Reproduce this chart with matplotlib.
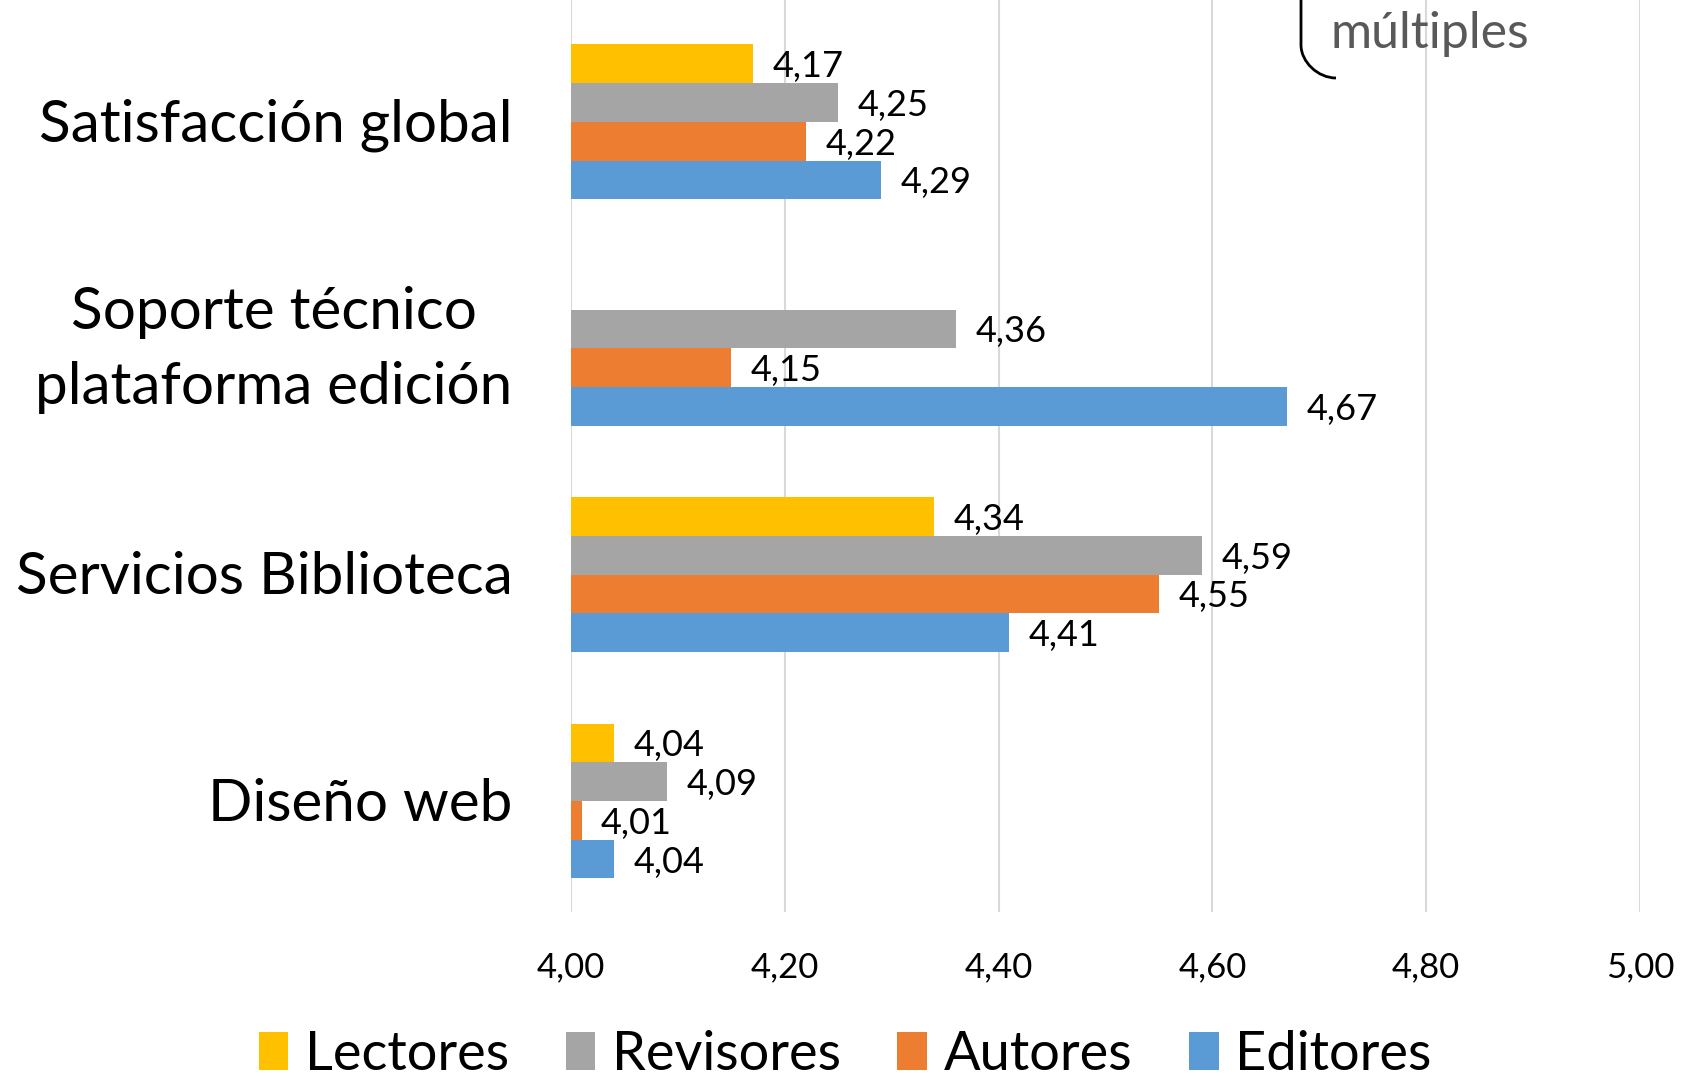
import matplotlib.pyplot as plt
from matplotlib.path import Path
from matplotlib.transforms import ScaledTranslation
import matplotlib.patches as mpatches
import numpy as np

categories = ["Satisfacción global", "Soporte técnico\nplataforma edición",
              "Servicios Biblioteca", "Diseño web"]
series = ["Lectores", "Revisores", "Autores", "Editores"]
colors = ["#FFC000", "#A5A5A5", "#ED7D31", "#5B9BD5"]

lectores = [4.17, np.nan, 4.34, 4.04]
revisores = [4.25, 4.36, 4.59, 4.09]
autores = [4.22, 4.15, 4.55, 4.01]
editores = [4.29, 4.67, 4.41, 4.04]
values = [lectores, revisores, autores, editores]

xticks = [4.0, 4.2, 4.4, 4.6, 4.8, 5.0]

W, H = 1690, 1078
fig = plt.figure(figsize=(W / 100, H / 100), dpi=100)
ax = fig.add_axes([571 / W, 1 - 912 / H, (1640 - 571) / W, 912 / H])

base = 4.0
bh = 0.171
y = np.arange(len(categories))
for i, (name, vals, c) in enumerate(zip(series, values, colors)):
    pos = y + (i - 1.5) * bh
    v = np.array(vals)
    ax.barh(pos, v - base, left=base, height=bh, color=c, label=name, zorder=2)
    for p, val in zip(pos, v):
        if np.isnan(val):
            continue
        ax.annotate(f"{val:.2f}".replace(".", ","), (val, p), xytext=(14, 0),
                    textcoords="offset points", va="center_baseline", ha="left",
                    fontsize=26, family="Lato", color="black")

ax.set_xlim(4.0, 5.0)
ax.set_ylim(3.49, -0.538)
ax.set_xticks(xticks)
ax.set_xticklabels([f"{t:.2f}".replace(".", ",") for t in xticks],
                   family="Lato", fontsize=25)
ax.set_yticks(y)
ax.set_yticklabels(categories, family="Lato", fontsize=42, linespacing=1.5,
                   multialignment="center")
ax.tick_params(axis="y", length=0, pad=42)
ax.tick_params(axis="x", length=0, pad=28)
ax.grid(axis="x", color="#D9D9D9", linewidth=1.5, zorder=0)
for s in ax.spines.values():
    s.set_visible(False)

# nudge category labels up a little (two-line label more)
for lab in ax.get_yticklabels():
    dy = 14 if "\n" in lab.get_text() else 2
    lab.set_transform(lab.get_transform() +
                      ScaledTranslation(0, dy / 100, fig.dpi_scale_trans))

leg = fig.legend(loc="lower center", bbox_to_anchor=(0.5, -0.046), ncol=4,
                 frameon=False, prop={"family": "Lato", "size": 39},
                 handlelength=0.55, handleheight=0.7, handletextpad=0.3,
                 columnspacing=1.05)

# fragment of annotation cut off at top right
fig.text(1331 / W, 1 - 48 / H, "múltiples", family="Lato", fontsize=36,
         color="#595959", ha="left", va="baseline")
verts = [(1301, 0), (1301, 45), (1301, 62), (1318, 78), (1336, 78)]
verts = [(x / W, 1 - yy / H) for x, yy in verts]
codes = [Path.MOVETO, Path.LINETO, Path.CURVE4, Path.CURVE4, Path.CURVE4]
fig.add_artist(mpatches.PathPatch(Path(verts, codes), fill=False, lw=2,
                                  edgecolor="black", transform=fig.transFigure))

fig.savefig("out.png", dpi=100)
